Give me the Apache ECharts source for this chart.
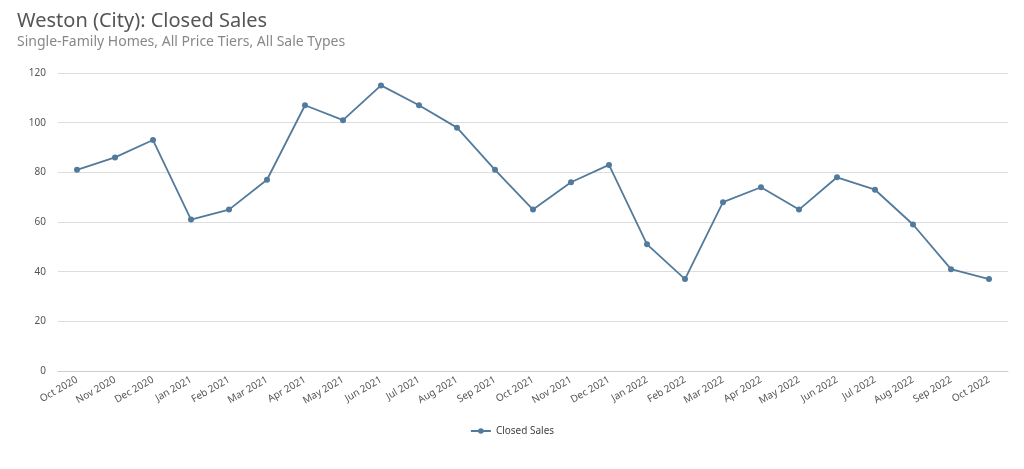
<!DOCTYPE html>
<html><head><meta charset="utf-8">
<script src="https://cdn.jsdelivr.net/npm/echarts@6/dist/echarts.min.js"></script>
<style>html,body{margin:0;padding:0;background:#fff}#c{width:1024px;height:469px}</style>
</head><body><div id="c"></div>
<script>
const categories=["Oct 2020","Nov 2020","Dec 2020","Jan 2021","Feb 2021","Mar 2021","Apr 2021","May 2021","Jun 2021","Jul 2021","Aug 2021","Sep 2021","Oct 2021","Nov 2021","Dec 2021","Jan 2022","Feb 2022","Mar 2022","Apr 2022","May 2022","Jun 2022","Jul 2022","Aug 2022","Sep 2022","Oct 2022"];
const closedSales=[81,86,93,61,65,77,107,101,115,107,98,81,65,76,83,51,37,68,74,65,78,73,59,41,37];
const chart=echarts.init(document.getElementById('c'));
chart.setOption({
  animation:false,
  textStyle:{fontFamily:'Noto Sans'},
  title:{text:'Weston (City): Closed Sales',subtext:'Single-Family Homes, All Price Tiers, All Sale Types',left:12,top:6,itemGap:4,
    textStyle:{fontSize:20,fontWeight:'normal',color:'#555'},subtextStyle:{fontSize:14,color:'#888'}},
  legend:{bottom:28,left:'center',itemWidth:20,itemHeight:7,textStyle:{fontSize:10,color:'#444'},data:['Closed Sales']},
  grid:{left:58,right:16,top:73,bottom:98},
  xAxis:{type:'category',data:categories,boundaryGap:true,
    axisLine:{lineStyle:{color:'#ccc'}},axisTick:{show:false},
    axisLabel:{rotate:30,fontSize:10,color:'#555',interval:0}},
  yAxis:{type:'value',min:0,max:120,interval:20,axisLine:{show:false},axisTick:{show:false},
    axisLabel:{fontSize:10,color:'#555',margin:12},splitLine:{lineStyle:{color:'#ddd'}}},
  series:[{name:'Closed Sales',type:'line',data:closedSales,symbol:'circle',symbolSize:6,
    lineStyle:{color:'#527a9c',width:1.8},itemStyle:{color:'#527a9c'}}]
});
</script></body></html>
